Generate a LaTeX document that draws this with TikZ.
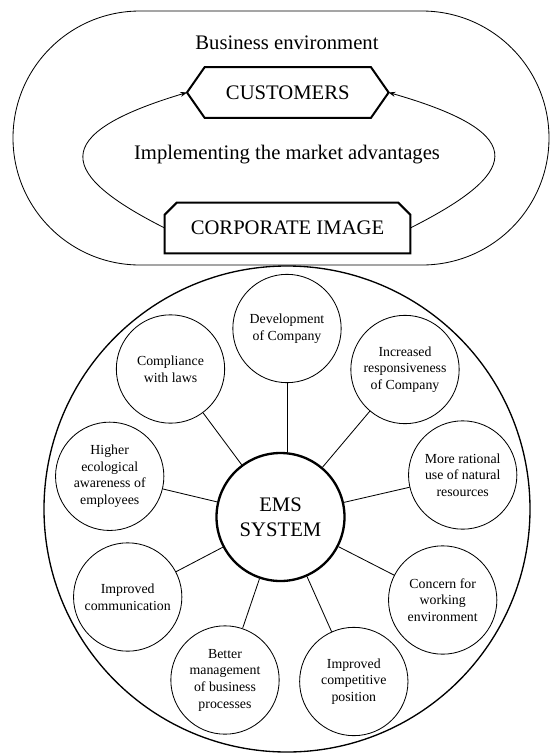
\documentclass[tikz,border=0pt]{standalone}
\usepackage{fontspec}
\setmainfont{Liberation Serif}
\usetikzlibrary{arrows.meta}
\begin{document}
\begin{tikzpicture}[x=0.6pt,y=-0.6pt,
  benefit/.style={draw, circle, line width=0.5pt, minimum size=65pt, inner sep=0pt, align=center, font=\fontsize{8.3}{10}\selectfont},
  bigtext/.style={font=\fontsize{12.4}{15}\selectfont},
  flow/.style={line width=0.5pt, -{Stealth[length=4pt,width=3pt]}},
  hexline/.style={line width=1.2pt, line join=miter}]
\useasboundingbox (0,0) rectangle (550,753);

% business environment
\path[draw, line width=0.5pt] (140,11) arc[start angle=270, end angle=90, radius=127]
  -- (422,265) arc[start angle=90, end angle=-90, radius=127] -- cycle;
\node[bigtext] (env) at (287,43) {Business environment};
\node[bigtext, minimum width=120.6pt, minimum height=30pt, inner sep=0pt] (cust) at (287.8,92.5) {CUSTOMERS};
\node[bigtext] (impl) at (287,155) {Implementing the market advantages};
\node[bigtext, minimum width=147pt, minimum height=30pt, inner sep=0pt] (corp) at (287.5,228) {CORPORATE IMAGE};

\path[draw, hexline] (cust.west) -- ([xshift=10.6pt]cust.north west) -- ([xshift=-10.6pt]cust.north east)
  -- (cust.east) -- ([xshift=-10.6pt]cust.south east) -- ([xshift=10.6pt]cust.south west) -- cycle;
\path[draw, hexline] (corp.south west) -- ([yshift=-7.2pt]corp.north west) -- ([xshift=7.2pt]corp.north west)
  -- ([xshift=-7.2pt]corp.north east) -- ([yshift=-7.2pt]corp.north east) -- (corp.south east) -- cycle;

\path[draw, flow] (corp.west) .. controls (60,175) and (45,135) .. (cust.west);
\path[draw, flow] (corp.east) .. controls (515,175) and (537,135) .. (cust.east);

% EMS wheel
\path[draw, line width=0.8pt] (287,509) circle[radius=243];
\node[draw, circle, line width=1.4pt, minimum size=76.8pt, inner sep=0pt, align=center, bigtext] (ems) at (280.5,517) {EMS\\SYSTEM};

\node[benefit] (1) at (287,328.5) {Development\\of Company};
\node[benefit] (2) at (405,369.5) {Increased\\responsiveness\\of Company};
\node[benefit] (3) at (462.7,475) {More rational\\use of natural\\resources};
\node[benefit] (4) at (442.7,600) {Concern for\\working\\environment};
\node[benefit] (5) at (353.8,681.5) {Improved\\competitive\\position};
\node[benefit] (6) at (225,680) {Better\\management\\of business\\processes};
\node[benefit] (7) at (127.7,597) {Improved\\communication};
\node[benefit] (8) at (109.7,476.3) {Higher\\ecological\\awareness of\\employees};
\node[benefit] (9) at (170.5,369) {Compliance\\with laws};

\path[draw, line width=0.5pt] (1.south) -- (1.south |- ems.north);
\path[draw, line width=0.5pt] (ems) -- (2);
\path[draw, line width=0.5pt] (ems) -- (3);
\path[draw, line width=0.5pt] (ems) -- (4);
\path[draw, line width=0.5pt] (ems) -- (5);
\path[draw, line width=0.5pt] (ems) -- (6);
\path[draw, line width=0.5pt] (ems) -- (7);
\path[draw, line width=0.5pt] (ems) -- (8);
\path[draw, line width=0.5pt] (ems) -- (9);
\end{tikzpicture}
\end{document}
